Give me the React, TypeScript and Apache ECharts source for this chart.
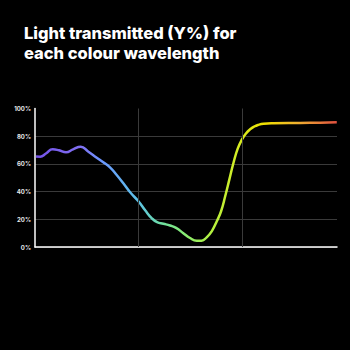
import React, { useEffect, useRef } from "react";
import * as echarts from "echarts";

const wavelengths = [
  401, 405, 410.6, 417.1, 423.2, 430, 436.8, 444.2, 451.3, 459.7, 466, 472.5, 479, 485.4, 492,
  500, 506.5, 513, 518, 524.2, 530.6, 536.4, 543.4, 549.9, 556.4, 561, 566, 571, 576,
  580, 584, 588, 592, 596, 600, 604, 608, 612, 616, 621, 630.5, 656.3, 675.6, 691.8,
];
const transmitted = [
  65.3, 65.2, 67.5, 70.5, 69.8, 68.4, 70.5, 72.4, 69, 64.5, 61.2, 57.5, 52, 46, 39.5,
  33, 26.5, 20.7, 18, 16.8, 15.5, 13.8, 10, 6.5, 4.6, 4.6, 7, 11.5, 19,
  26, 37, 49, 61, 71, 77.5, 82, 85, 87, 88.2, 89, 89.4, 89.6, 89.8, 90,
];
const yTicks = [0, 20, 40, 60, 80, 100];
const verticalMarks = [500, 600];
const titleLines = ["Light transmitted (Y%) for", "each colour wavelength"];

export default function App() {
  const ref = useRef<HTMLDivElement>(null);
  useEffect(() => {
    if (!ref.current) return;
    const chart = echarts.init(ref.current, null, { renderer: "svg" });
    const data = wavelengths.map((w, i) => [w, transmitted[i]]);
    chart.setOption({
      animation: false,
      backgroundColor: "#000000",
      title: titleLines.map((t, i) => ({
        text: t,
        left: 24,
        top: 25 + i * 19.5,
        padding: 0,
        textStyle: {
          color: "#ffffff",
          fontSize: 16.5,
          fontWeight: 800,
          lineHeight: 16.5,
          fontFamily: "Inter",
        },
      })),
      grid: { left: 35, right: 13, top: 108.5, bottom: 103 },
      xAxis: {
        type: "value",
        min: 400,
        max: 692,
        interval: 100,
        axisLine: { show: true, lineStyle: { color: "#ffffff", width: 1.5 } },
        axisTick: { show: false },
        axisLabel: { show: false },
        splitLine: { show: false },
      },
      yAxis: {
        type: "value",
        min: yTicks[0],
        max: yTicks[yTicks.length - 1],
        interval: 20,
        axisLine: { show: true, lineStyle: { color: "#ffffff", width: 1.5 } },
        axisTick: { show: false },
        axisLabel: {
          formatter: "{value}%",
          color: "#e8e8e8",
          fontSize: 6,
          fontWeight: "bold",
          fontFamily: "Inter",
          margin: 4,
        },
        splitLine: {
          show: true,
          lineStyle: {
            color: ["#3a3a3a", "#3a3a3a", "#3a3a3a", "#3a3a3a", "#3a3a3a", "rgba(0,0,0,0)"],
            width: 1,
          },
        },
      },
      series: [
        {
          type: "line",
          data,
          smooth: 0.5,
          showSymbol: false,
          lineStyle: {
            width: 2.5,
            color: new echarts.graphic.LinearGradient(0, 0, 1, 0, [
              { offset: 0, color: "#7452e8" },
              { offset: 0.15, color: "#8070f2" },
              { offset: 0.22, color: "#6b98ff" },
              { offset: 0.34, color: "#5cc2e6" },
              { offset: 0.42, color: "#70e0a0" },
              { offset: 0.5, color: "#8aec70" },
              { offset: 0.58, color: "#b2f040" },
              { offset: 0.68, color: "#d8ec20" },
              { offset: 0.76, color: "#f0e000" },
              { offset: 0.87, color: "#f0b030" },
              { offset: 1, color: "#e05040" },
            ]),
          },
          markLine: {
            silent: true,
            symbol: "none",
            label: { show: false },
            lineStyle: { color: "#3a3a3a", type: "solid", width: 1 },
            data: verticalMarks.map((v) => ({ xAxis: v })),
          },
        },
      ],
    });
    return () => chart.dispose();
  }, []);
  return (
    <div
      ref={ref}
      style={{ position: "fixed", left: 0, top: 0, width: 350, height: 350 }}
    />
  );
}
